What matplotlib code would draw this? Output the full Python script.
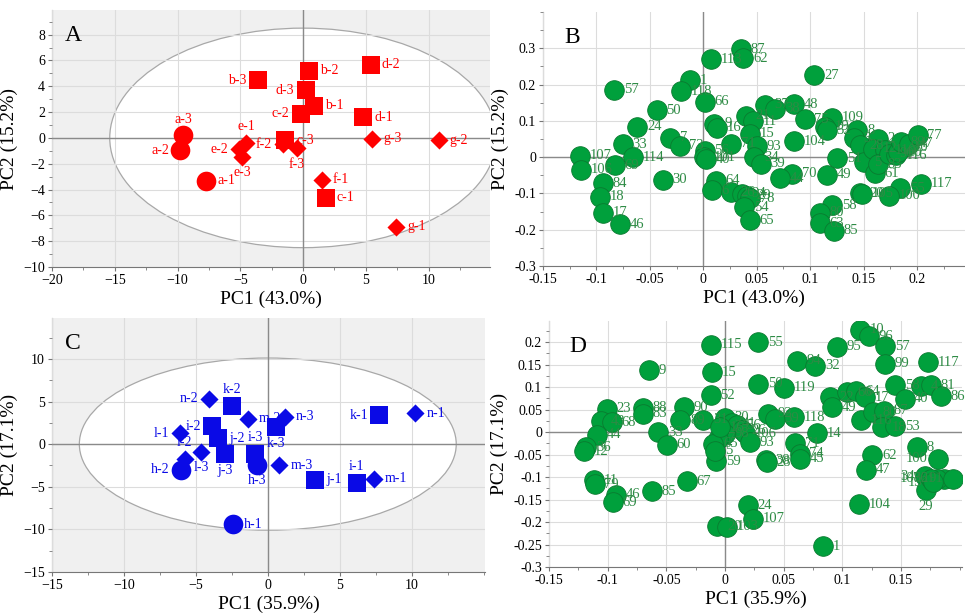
import matplotlib.pyplot as plt
from matplotlib.patches import Ellipse
from matplotlib.ticker import AutoMinorLocator

plt.rcParams['font.family'] = ['Liberation Serif', 'DejaVu Serif']

# ---- panel A: samples (scores) ----
a_labels = ["a-1", "a-2", "a-3", "b-1", "b-2", "b-3", "c-1", "c-2", "c-3",
            "d-1", "d-2", "d-3", "e-1", "e-2", "e-3", "f-1", "f-2", "f-3",
            "g-1", "g-2", "g-3"]
a_x = [-7.7, -9.8, -9.55, 0.9, 0.48, -3.6, 1.8, -0.2, -1.4,
       4.8, 5.4, 0.2, -4.55, -5.1, -4.85, 1.5, -1.6, -0.5,
       7.4, 10.8, 5.5]
a_y = [-3.3, -0.97, 0.2, 2.5, 5.2, 4.45, -4.65, 1.87, -0.2,
       1.6, 5.65, 3.7, -0.4, -0.87, -1.45, -3.25, -0.5, -0.82,
       -6.9, -0.18, -0.05]

# ---- panel B: variables (loadings) ----
b_labels = ["87", "62", "113", "1", "118", "66", "57", "50", "24", "33", "7", "73",
            "107", "106", "114", "69", "84", "18", "17", "46", "30", "56", "101", "40",
            "9", "16", "64", "6", "26", "94", "29", "78", "54", "65", "21", "11",
            "37", "38", "48", "15", "71", "93", "34", "39", "104", "75", "109", "27",
            "19", "32", "70", "44", "49", "51", "8", "3", "28", "5", "2", "12",
            "110", "61", "83", "90", "116", "10", "60", "89", "47", "77", "58", "80",
            "63", "85", "117", "55", "100", "20", "105"]
b_x = [0.035, 0.0375, 0.0068, -0.0124, -0.0207, 0.0012, -0.0833, -0.0437, -0.0616, -0.0752, -0.031, -0.022,
       -0.115, -0.114, -0.066, -0.0827, -0.094, -0.0963, -0.094, -0.078, -0.0378, 0.0012, 0.001, 0.003,
       0.0105, 0.0124, 0.0118, 0.008, 0.026, 0.0365, 0.041, 0.044, 0.0384, 0.0433, 0.0396, 0.0464,
       0.0576, 0.0675, 0.0845, 0.0437, 0.0263, 0.0505, 0.0477, 0.0536, 0.0845, 0.095, 0.1204, 0.104,
       0.114, 0.1158, 0.083, 0.072, 0.1158, 0.1254, 0.1443, 0.1409, 0.1464, 0.1505, 0.1635, 0.1588,
       0.1697, 0.1604, 0.1635, 0.1743, 0.1805, 0.1882, 0.182, 0.1851, 0.1929, 0.2006, 0.1204, 0.109,
       0.109, 0.1226, 0.2037, 0.1845, 0.1737, 0.1464, 0.1486]
b_y = [0.297, 0.272, 0.270, 0.212, 0.181, 0.153, 0.185, 0.129, 0.083, 0.035, 0.053, 0.031,
       0.004, -0.035, 0.0, -0.023, -0.072, -0.109, -0.154, -0.185, -0.063, 0.018, 0.0, -0.006,
       0.092, 0.081, -0.065, -0.092, -0.097, -0.1016, -0.106, -0.113, -0.1385, -0.1736, 0.1145, 0.0988,
       0.144, 0.133, 0.146, 0.0646, 0.037, 0.0295, 0.0, -0.0185, 0.0434, 0.105, 0.109, 0.225,
       0.083, 0.074, -0.046, -0.058, -0.048, -0.0037, 0.0739, 0.0526, 0.0323, -0.0139, 0.0508, 0.0231,
       0.0185, -0.045, -0.02, 0.0092, 0.0046, 0.0277, 0.0139, 0.0416, 0.037, 0.060, -0.133, -0.153,
       -0.182, -0.203, -0.074, -0.086, -0.106, -0.0997, -0.1016]

# ---- panel C: samples (scores) ----
c_labels = ["h-1", "h-2", "h-3", "i-1", "i-2", "i-3", "j-1", "j-2", "j-3",
            "k-1", "k-2", "k-3", "l-1", "l-2", "l-3", "m-1", "m-2", "m-3",
            "n-1", "n-2", "n-3"]
c_x = [-2.45, -6.05, -0.77, 6.17, -3.88, -0.86, 3.3, -3.45, -2.97,
       7.75, -2.48, 0.6, -6.1, -5.77, -4.65, 7.36, -1.4, 0.8,
       10.26, -4.07, 1.17]
c_y = [-9.4, -3.0, -2.4, -4.55, 2.08, -1.18, -4.2, 0.7, -1.14,
       3.4, 4.45, 2.0, 1.26, -1.7, -0.87, -4.05, 3.0, -2.5,
       3.6, 5.3, 3.2]

# ---- panel D: variables (loadings) ----
d_labels = ["10", "96", "57", "95", "55", "115", "15", "9", "94", "32", "99", "117",
            "50", "119", "52", "58", "40", "4", "81", "86", "23", "88", "83", "90",
            "89", "31", "43", "68", "44", "36", "12", "11", "79", "46", "69", "85",
            "67", "33", "60", "59", "30", "41", "56", "26", "106", "93", "98", "7",
            "65", "5", "16", "92", "39", "118", "14", "71", "74", "45", "38", "28",
            "24", "107", "20", "103", "1", "104", "62", "47", "8", "100", "34", "29",
            "21", "76", "91", "108", "13", "22", "49", "66", "64", "17", "116", "80",
            "87", "18", "53"]
d_x = [0.1147, 0.1227, 0.1365, 0.0955, 0.0283, -0.0119, -0.0113, -0.0646, 0.0615, 0.077, 0.136, 0.1728,
       0.0283, 0.0501, -0.0122, 0.145, 0.153, 0.167, 0.1756, 0.1841, -0.1006, -0.0703, -0.0697, -0.0348,
       -0.038, -0.0184, -0.106, -0.0963, -0.1088, -0.1184, -0.1204, -0.1113, -0.111, -0.0932, -0.0958, -0.0623,
       -0.0326, -0.0567, -0.0496, -0.0076, 0.0, 0.0057, 0.0099, 0.0142, 0.017, 0.0212, 0.0, -0.0057,
       -0.0099, -0.0085, -0.004, 0.0368, 0.0425, 0.0589, 0.0782, 0.060, 0.0637, 0.0637, 0.0346, 0.0354,
       0.0193, 0.024, -0.0065, 0.0014, 0.0839, 0.1142, 0.1255, 0.1204, 0.1637, 0.1813, 0.1705, 0.1714,
       0.187, 0.181, 0.194, 0.1756, 0.177, 0.0892, 0.0915, 0.1042, 0.1113, 0.119, 0.1156, 0.126,
       0.1354, 0.1337, 0.1453]
d_y = [0.2274, 0.2126, 0.191, 0.190, 0.200, 0.194, 0.1326, 0.137, 0.159, 0.148, 0.152, 0.1556,
       0.1074, 0.0985, 0.0815, 0.1037, 0.074, 0.1015, 0.1037, 0.080, 0.052, 0.054, 0.0407, 0.0556,
       0.026, 0.028, 0.0244, 0.0222, -0.006, -0.0333, -0.0422, -0.1074, -0.1163, -0.139, -0.1556, -0.132,
       -0.1096, 0.0, -0.028, -0.065, 0.032, 0.020, 0.015, 0.0037, -0.002, -0.022, -0.004, -0.015,
       -0.026, -0.041, 0.011, 0.0407, 0.0296, 0.0333, -0.002, -0.0244, -0.048, -0.059, -0.063, -0.0667,
       -0.163, -0.1926, -0.2096, -0.211, -0.2533, -0.1607, -0.0519, -0.0837, -0.0333, -0.0593, -0.0985, -0.1296,
       -0.1037, -0.1037, -0.1037, -0.1037, -0.111, 0.0778, 0.0556, 0.0889, 0.0911, 0.0778, 0.026, 0.0444,
       0.048, 0.011, 0.0133]

# sample group -> marker shape
shape_of = {'a': 'o', 'b': 's', 'c': 's', 'd': 's', 'e': 'D', 'f': 'D', 'g': 'D',
            'h': 'o', 'i': 's', 'j': 's', 'k': 's', 'l': 'D', 'm': 'D', 'n': 'D'}
size_of = {'o': 200, 's': 160, 'D': 85}

# where the labels sit relative to the marker (default: right)
a_place = {'a-2': 'l', 'a-3': 't', 'b-3': 'l', 'c-2': 'l', 'd-3': 'l', 'e-1': 't',
           'e-2': 'l', 'e-3': 'b', 'f-2': 'l', 'f-3': 'b'}
c_place = {'h-2': 'l', 'h-3': 'b', 'i-1': 't', 'i-2': 'l', 'i-3': 't', 'j-3': 'b',
           'k-1': 'l', 'k-2': 't', 'k-3': 'b', 'l-1': 'l', 'l-2': 't', 'l-3': 'b',
           'n-2': 'l'}
b_place = {}
d_place = {'100': 'l', '34': 'l', '29': 'b', '21': 'l', '91': 'l', '76': 'l', '108': 'l', '13': 'l'}
offsets = {'r': ((8, 0), 'left', 'center'), 'l': ((-8, 0), 'right', 'center'),
           't': ((0, 7), 'center', 'bottom'), 'b': ((0, -7), 'center', 'top')}

fig = plt.figure(figsize=(9.65, 6.13), dpi=100)

def style_axes(ax, bg):
    ax.set_facecolor(bg)
    ax.set_axisbelow(False)
    ax.grid(True, color='#dcdcdc', lw=0.8)
    for s in ['top', 'right']:
        ax.spines[s].set_visible(False)
    for s in ['left', 'bottom']:
        ax.spines[s].set_color('#777777')
    ax.axhline(0, color='#8a8a8a', lw=1, zorder=2.6)
    ax.axvline(0, color='#8a8a8a', lw=1, zorder=2.6)
    ax.xaxis.set_minor_locator(AutoMinorLocator(2))
    ax.yaxis.set_minor_locator(AutoMinorLocator(2))
    ax.tick_params(which='both', direction='out', color='#777777', labelsize=10, pad=2)
    ax.tick_params(which='major', length=3)
    ax.tick_params(which='minor', length=2)

def score_panel(rect, labels, xs, ys, color, place, ell, xlim, ylim, xticks, yticks, xl, yl, letter):
    ax = fig.add_axes(rect)
    style_axes(ax, '#f0f0f0')
    ax.add_patch(Ellipse((0, 0), ell[0], ell[1], facecolor='white', edgecolor='#a8a8a8', lw=0.9, zorder=1))
    for lab, x, y in zip(labels, xs, ys):
        m = shape_of[lab[0]]
        ax.scatter(x, y, marker=m, s=size_of[m], color=color, zorder=3, linewidths=0)
        off, ha, va = offsets[place.get(lab, 'r')]
        ax.annotate(lab, (x, y), xytext=off, textcoords='offset points', ha=ha, va=va,
                    color=color, fontsize=10, zorder=4)
    ax.set_xlim(*xlim)
    ax.set_ylim(*ylim)
    ax.set_xticks(xticks)
    ax.set_yticks(yticks)
    ax.set_xlabel(xl, fontsize=14, labelpad=3)
    ax.set_ylabel(yl, fontsize=14, labelpad=4)
    ax.text(0.03, 0.94, letter, transform=ax.transAxes, fontsize=17, va='top')
    return ax

def loading_panel(rect, labels, xs, ys, place, xlim, ylim, xticks, yticks, xl, yl, letter):
    ax = fig.add_axes(rect)
    style_axes(ax, 'white')
    ax.scatter(xs, ys, s=200, color='#00a03c', edgecolors='#0a7a30', linewidths=0.6, zorder=3)
    for lab, x, y in zip(labels, xs, ys):
        off, ha, va = offsets[place.get(lab, 'r')]
        off = (off[0] * 7 / 8, off[1])
        ax.annotate(lab, (x, y), xytext=off, textcoords='offset points', ha=ha, va=va,
                    color='#2e8b45', fontsize=10.5, zorder=4)
    ax.set_xlim(*xlim)
    ax.set_ylim(*ylim)
    ax.set_xticks(xticks)
    ax.set_yticks(yticks)
    ax.set_xticklabels([f'{t:g}' for t in xticks])
    ax.set_yticklabels([f'{t:g}' for t in yticks])
    ax.set_xlabel(xl, fontsize=14, labelpad=3)
    ax.set_ylabel(yl, fontsize=14, labelpad=4)
    ax.text(0.05, 0.94, letter, transform=ax.transAxes, fontsize=17, va='top')
    return ax

score_panel([0.0539, 0.5644, 0.4539, 0.4192], a_labels, a_x, a_y, '#ff0000', a_place,
            (30.8, 17.0), (-20, 14.9), (-10, 9.9), range(-20, 11, 5), range(-10, 9, 2),
            'PC1 (43.0%)', 'PC2 (15.2%)', 'A')
loading_panel([0.5627, 0.5661, 0.4373, 0.4144], b_labels, b_x, b_y, b_place,
              (-0.15, 0.245), (-0.3, 0.4), [-0.15, -0.1, -0.05, 0, 0.05, 0.1, 0.15, 0.2],
              [-0.3, -0.2, -0.1, 0, 0.1, 0.2, 0.3], 'PC1 (43.0%)', 'PC2 (15.2%)', 'B')
score_panel([0.0539, 0.0669, 0.4487, 0.4144], c_labels, c_x, c_y, '#0a0ae6', c_place,
            (26.2, 20.2), (-15, 15.1), (-15, 14.8), range(-15, 11, 5), range(-15, 11, 5),
            'PC1 (35.9%)', 'PC2 (17.1%)', 'C')
loading_panel([0.5689, 0.075, 0.428, 0.4013], d_labels, d_x, d_y, d_place,
              (-0.15, 0.202), (-0.3, 0.247), [-0.15, -0.1, -0.05, 0, 0.05, 0.1, 0.15],
              [-0.3, -0.25, -0.2, -0.15, -0.1, -0.05, 0, 0.05, 0.1, 0.15, 0.2],
              'PC1 (35.9%)', 'PC2 (17.1%)', 'D')

fig.savefig('out.png', dpi=100)
